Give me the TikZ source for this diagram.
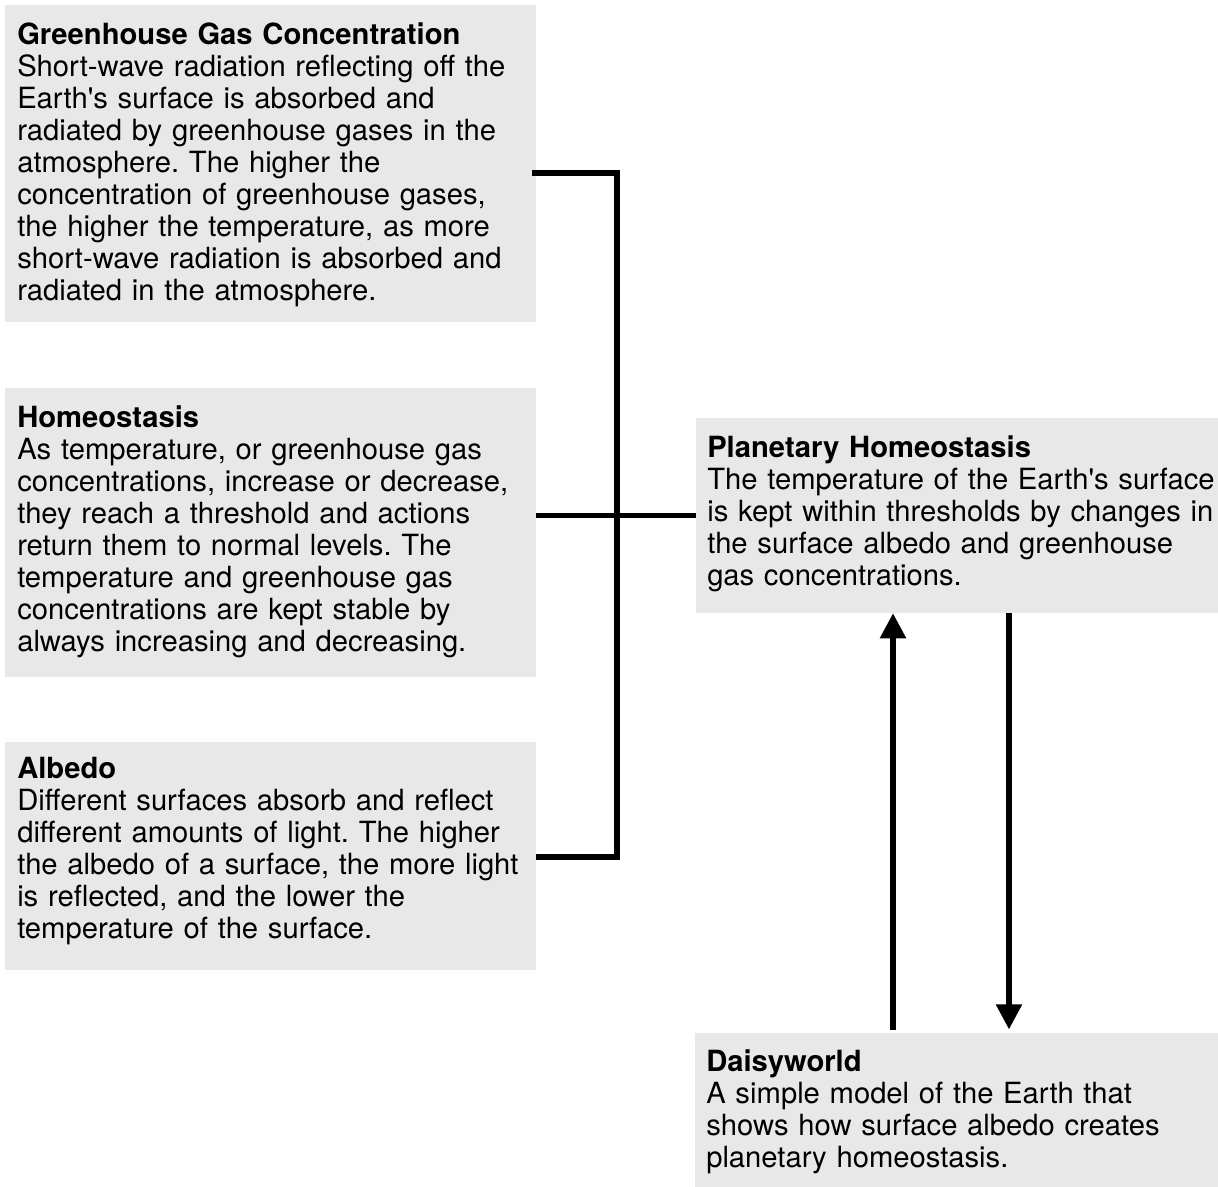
\documentclass[tikz,border=0pt]{standalone}
\usepackage{fontspec}
\setmainfont{TeX Gyre Heros}
\usetikzlibrary{arrows.meta}
\definecolor{boxgrey}{HTML}{E8E8E8}
\begin{document}
\frenchspacing
\begin{tikzpicture}[x=0.75pt,y=-0.75pt,
  box/.style={draw=none, fill=boxgrey, inner sep=0pt},
  txt/.style={anchor=north west, inner sep=0pt, align=left, text width=420pt,
    font=\fontsize{21.9pt}{24pt}\selectfont},
  conn/.style={line width=4pt, line cap=butt, line join=miter},
  arr/.style={line width=4pt, -{Triangle[length=18.75pt,width=18.75pt]}}]
\useasboundingbox (0,0) rectangle (1218,1187);
% boxes
\node[box, minimum width=398.25pt, minimum height=237.75pt] (ghg) at (270.5,163.5) {};
\node[box, minimum width=398.25pt, minimum height=216.75pt] (hom) at (270.5,532.5) {};
\node[box, minimum width=398.25pt, minimum height=171pt] (alb) at (270.5,856) {};
\node[box, minimum width=391.5pt, minimum height=146.25pt] (pl) at (957,515.5) {};
\node[box, minimum width=392.25pt, minimum height=115.5pt] (dw) at (956.5,1110) {};
% texts
\node[txt] (ghgt) at (17,20) {\rule{0pt}{18pt}\textbf{Greenhouse Gas Concentration}\\
Short-wave radiation reflecting off the\\
Earth\textquotesingle s surface is absorbed and\\
radiated by greenhouse gases in the\\
atmosphere. The higher the\\
concentration of greenhouse gases,\\
the higher the temperature, as more\\
short-wave radiation is absorbed and\\
radiated in the atmosphere.};
\node[txt] (homt) at (17,403) {\rule{0pt}{18pt}\textbf{Homeostasis}\\
As temperature, or greenhouse gas\\
concentrations, increase or decrease,\\
they reach a threshold and actions\\
return them to normal levels. The\\
temperature and greenhouse gas\\
concentrations are kept stable by\\
always increasing and decreasing.};
\node[txt] (albt) at (17,754) {\rule{0pt}{18pt}\textbf{Albedo}\\
Different surfaces absorb and reflect\\
different amounts of light. The higher\\
the albedo of a surface, the more light\\
is reflected, and the lower the\\
temperature of the surface.};
\node[txt] (plt) at (707,433) {\rule{0pt}{18pt}\textbf{Planetary Homeostasis}\\
The temperature of the Earth\textquotesingle s surface\\
is kept within thresholds by changes in\\
the surface albedo and greenhouse\\
gas concentrations.};
\node[txt] (dwt) at (706,1047) {\rule{0pt}{18pt}\textbf{Daisyworld}\\
A simple model of the Earth that\\
shows how surface albedo creates\\
planetary homeostasis.};
% connectors
\coordinate (jt) at (617,173);
\coordinate (jb) at (617,857);
\draw[conn] ([xshift=-3pt]ghg.east |- jt) -- (jt) -- (jb) -- (alb.east |- jb);
\draw[conn] (hom.east |- pl.west) -- (pl.west);
\coordinate (ua) at (893,0);
\coordinate (da) at (1009,0);
\draw[arr, shorten <=2.25pt] (dw.north -| ua) -- (pl.south -| ua);
\draw[arr, shorten >=2.5pt] (pl.south -| da) -- (dw.north -| da);
\end{tikzpicture}
\end{document}
